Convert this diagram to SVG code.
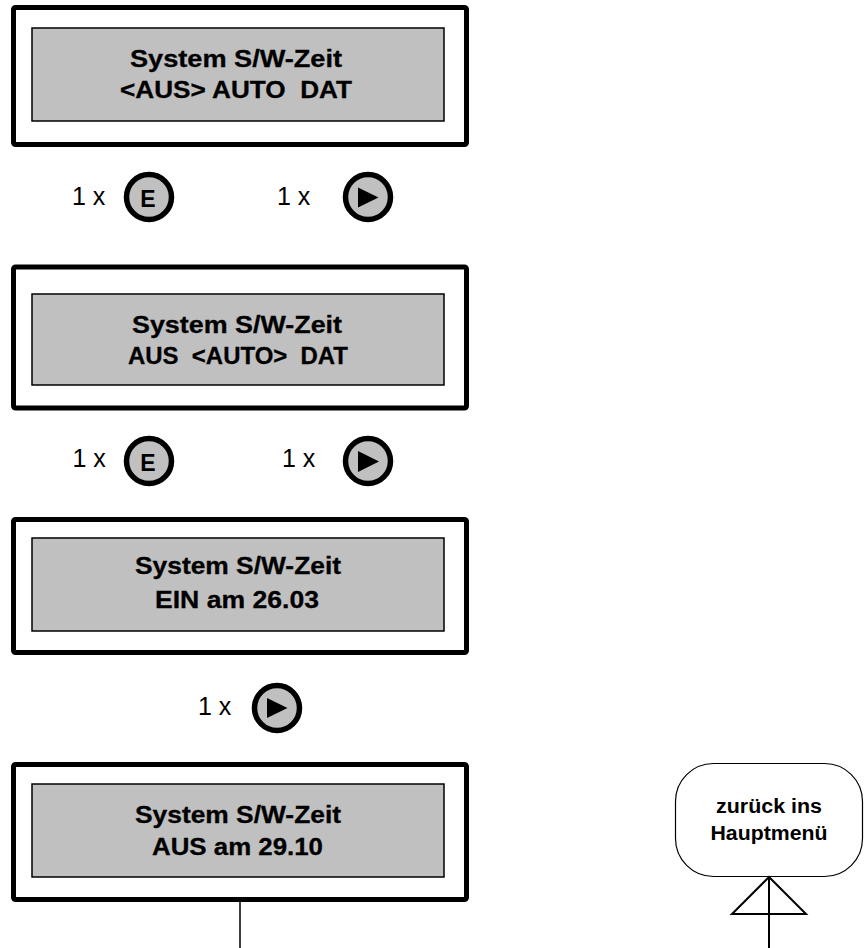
<svg xmlns="http://www.w3.org/2000/svg" width="868" height="948" viewBox="0 0 868 948">
<style>
.outer{fill:#fff;stroke:#000;stroke-width:5}
.inner{fill:#c0c0c0;stroke:#000;stroke-width:1.5}
.t{font-family:"Liberation Sans",Arial,sans-serif;font-weight:bold;font-size:23px;fill:#000;stroke:#000;stroke-width:0.3;text-anchor:middle}
.cnt{font-family:"Liberation Sans",Arial,sans-serif;font-size:25px;fill:#000}
.btn{fill:#c0c0c0;stroke:#000;stroke-width:5.5}
.bt{font-family:"Liberation Sans",Arial,sans-serif;font-weight:bold;font-size:23px;fill:#000;text-anchor:middle}
.tri{fill:#000}
.rb{fill:#fff;stroke:#000;stroke-width:1.2}
.rt{font-family:"Liberation Sans",Arial,sans-serif;font-weight:bold;font-size:19.5px;fill:#000;text-anchor:middle}
.ln{stroke:#000;stroke-width:1.5;fill:none}
.ln2{stroke:#000;stroke-width:2;fill:none}
</style>
<g id="box1">
<rect class="outer" x="13.5" y="7.5" width="453" height="137" rx="2"/>
<rect class="inner" x="32" y="28" width="412" height="93"/>
<text class="t" x="236" y="66.5" textLength="212" lengthAdjust="spacingAndGlyphs">System S/W-Zeit</text>
<text class="t" x="236" y="98" textLength="232" lengthAdjust="spacingAndGlyphs" xml:space="preserve">&lt;AUS&gt; AUTO  DAT</text>
</g>
<g id="row1">
<text class="cnt" x="72" y="205">1 x</text>
<circle class="btn" cx="149" cy="197" r="22.5"/>
<text class="bt" x="148" y="206.5">E</text>
<text class="cnt" x="277" y="205">1 x</text>
<circle class="btn" cx="368" cy="197" r="22.5"/>
<polygon class="tri" points="358,187.5 358,207.5 378.5,197.5"/>
</g>
<g id="box2">
<rect class="outer" x="13.5" y="267" width="453" height="141" rx="2"/>
<rect class="inner" x="32" y="294" width="412" height="91"/>
<text class="t" x="237" y="332.5" textLength="210" lengthAdjust="spacingAndGlyphs">System S/W-Zeit</text>
<text class="t" x="238" y="364" textLength="220" lengthAdjust="spacingAndGlyphs" xml:space="preserve">AUS  &lt;AUTO&gt;  DAT</text>
</g>
<g id="row2">
<text class="cnt" x="72.5" y="467">1 x</text>
<circle class="btn" cx="149" cy="461" r="22.5"/>
<text class="bt" x="148" y="470.5">E</text>
<text class="cnt" x="282" y="467">1 x</text>
<circle class="btn" cx="368" cy="461" r="22.5"/>
<polygon class="tri" points="358,451 358,472 379,461.5"/>
</g>
<g id="box3">
<rect class="outer" x="13.5" y="519.5" width="453" height="133" rx="2"/>
<rect class="inner" x="32" y="538" width="412" height="93"/>
<text class="t" x="238" y="574" textLength="206" lengthAdjust="spacingAndGlyphs">System S/W-Zeit</text>
<text class="t" x="237" y="608" textLength="164" lengthAdjust="spacingAndGlyphs">EIN am 26.03</text>
</g>
<g id="row3">
<text class="cnt" x="198" y="715">1 x</text>
<circle class="btn" cx="277" cy="708" r="22.5"/>
<polygon class="tri" points="267,698 267,718 287.5,708"/>
</g>
<g id="box4">
<rect class="outer" x="13.5" y="764.5" width="453" height="135" rx="2"/>
<rect class="inner" x="32" y="784" width="412" height="93"/>
<text class="t" x="238" y="822.5" textLength="206" lengthAdjust="spacingAndGlyphs">System S/W-Zeit</text>
<text class="t" x="237.5" y="854.5" textLength="171" lengthAdjust="spacingAndGlyphs">AUS am 29.10</text>
</g>
<g id="hauptmenue">
<rect class="rb" x="675.5" y="763.5" width="187" height="113" rx="38" ry="38"/>
<text class="rt" x="769" y="813" textLength="106" lengthAdjust="spacingAndGlyphs">zurück ins</text>
<text class="rt" x="769" y="839.5" textLength="117" lengthAdjust="spacingAndGlyphs">Hauptmenü</text>
</g>
<g id="connectors">
<line class="ln" x1="240" y1="902" x2="240" y2="948"/>
<line class="ln2" x1="769" y1="877" x2="769" y2="948"/>
<polygon class="ln2" points="769,877 732,914 806,914"/>
</g>
</svg>
